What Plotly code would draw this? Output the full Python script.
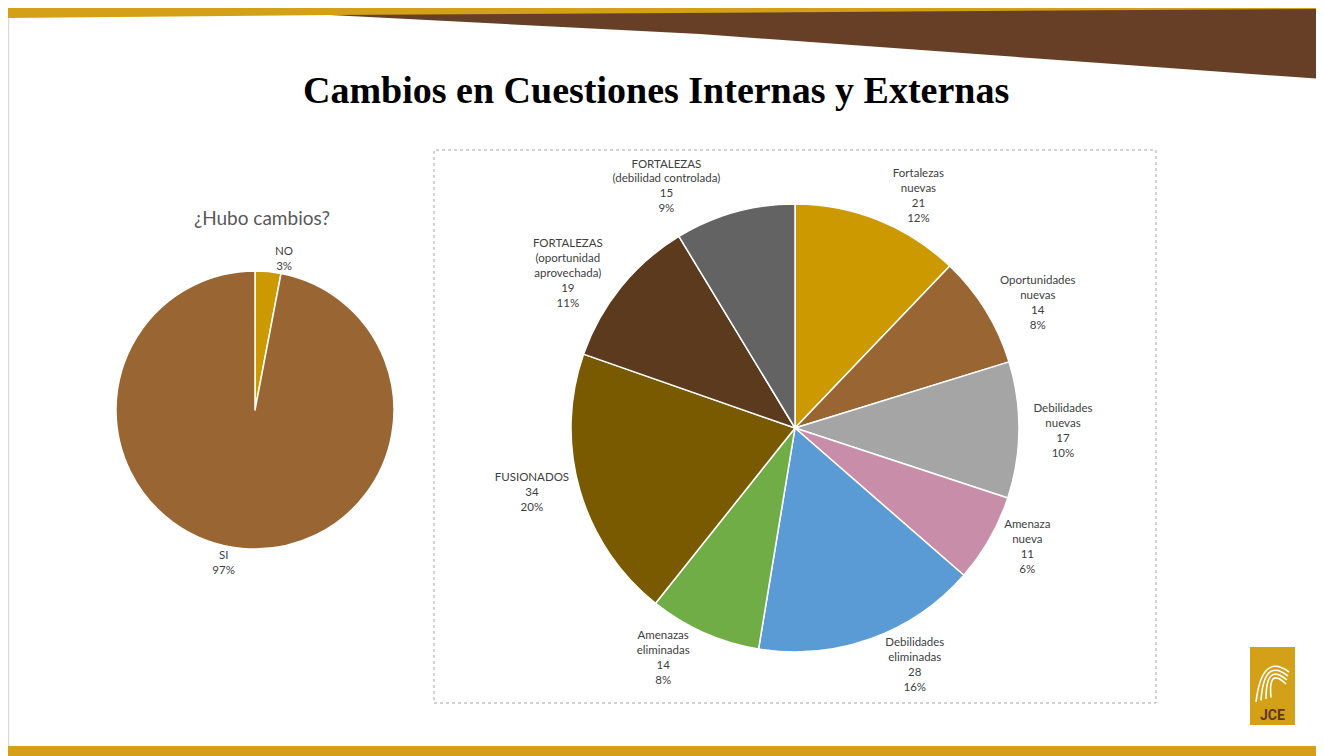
import plotly.graph_objects as go

# left pie: "¿Hubo cambios?"
cambios_labels = ["NO", "SI"]
cambios_pct = [3, 97]
cambios_colors = ["#CC9900", "#996633"]

# right pie: cambios por tipo
tipo_labels = [
    "Fortalezas<br>nuevas",
    "Oportunidades<br>nuevas",
    "Debilidades<br>nuevas",
    "Amenaza<br>nueva",
    "Debilidades<br>eliminadas",
    "Amenazas<br>eliminadas",
    "FUSIONADOS",
    "FORTALEZAS<br>(oportunidad<br>aprovechada)",
    "FORTALEZAS<br>(debilidad controlada)",
]
tipo_values = [21, 14, 17, 11, 28, 14, 34, 19, 15]
tipo_colors = [
    "#CC9900", "#996633", "#A5A5A5", "#C78DA9", "#5B9BD5",
    "#70AD47", "#7A5A00", "#5C3A1E", "#636363",
]

# the page body keeps its default 8px margin, so the figure is drawn
# 8px smaller and every screen position is shifted by that offset
OFF = 8
W, H = 1324 - OFF, 756 - OFF
label_font = dict(family="Lato, 'Open Sans', sans-serif", size=11.5, color="#404040")


def px_x(x):
    return (x - OFF) / W


def px_y(y):
    return 1 - (y - OFF) / H


fig = go.Figure()

fig.add_trace(
    go.Pie(
        labels=cambios_labels,
        values=cambios_pct,
        sort=False,
        direction="clockwise",
        rotation=0,
        marker=dict(colors=cambios_colors, line=dict(color="white", width=1.5)),
        textposition="outside",
        texttemplate="%{label}<br>%{percent:.0%}",
        textfont=label_font,
        showlegend=False,
        hoverinfo="label+percent",
        domain=dict(x=[px_x(116), px_x(394)], y=[px_y(549), px_y(271)]),
    )
)

fig.add_trace(
    go.Pie(
        labels=tipo_labels,
        values=tipo_values,
        sort=False,
        direction="clockwise",
        rotation=0,
        marker=dict(colors=tipo_colors, line=dict(color="white", width=1.5)),
        textposition="outside",
        texttemplate="%{label}<br>%{value}<br>%{percent:.0%}",
        textfont=label_font,
        showlegend=False,
        hoverinfo="label+value+percent",
        domain=dict(x=[px_x(571), px_x(1019)], y=[px_y(652), px_y(204)]),
    )
)


def path(points):
    pts = [f"{px_x(x)} {px_y(y)}" for x, y in points]
    return "M " + " L ".join(pts) + " Z"


def curve(x0, y0, cx, cy, x1, y1):
    return f"M {px_x(x0)} {px_y(y0)} Q {px_x(cx)} {px_y(cy)} {px_x(x1)} {px_y(y1)}"


shapes = [
    # slide left edge
    dict(type="line", x0=px_x(8.5), x1=px_x(8.5), y0=px_y(18), y1=px_y(746),
         line=dict(color="#D9D9D9", width=1.5)),
    # brown wedge
    dict(type="path",
         path=path([(330, 8), (1322, 8), (1322, 79), (1100, 63), (700, 34), (330, 15)]),
         fillcolor="#673F27", line=dict(width=0)),
    # top gold band
    dict(type="path",
         path=path([(0, 8), (1322, 8), (1322, 9), (330, 15), (0, 18)]),
         fillcolor="#D4A017", line=dict(width=0)),
    # bottom gold bar
    dict(type="rect", x0=px_x(8), x1=1, y0=0, y1=px_y(746),
         fillcolor="#D4A017", line=dict(width=0)),
    # dotted frame around the right chart
    dict(type="rect", x0=px_x(434), x1=px_x(1156), y0=px_y(703), y1=px_y(150),
         line=dict(color="#A6A6A6", width=1, dash="dot")),
    # logo block
    dict(type="rect", x0=px_x(1250), x1=px_x(1295), y0=px_y(725), y1=px_y(647),
         fillcolor="#D4A017", line=dict(width=0)),
]

# fingerprint strokes of the logo
for k in range(4):
    d = 5 * k
    shapes.append(
        dict(type="path",
             path=curve(1256 + d, 702 - d * 0.3, 1262 + d * 0.4, 652 + d, 1289 - d * 0.2, 672 + d * 0.8),
             line=dict(color="white", width=1.6))
    )

annotations = [
    dict(text="<b>Cambios en Cuestiones Internas y Externas</b>",
         x=px_x(656), y=px_y(90), xref="paper", yref="paper", showarrow=False,
         xanchor="center", yanchor="middle",
         font=dict(family="Liberation Serif, 'Times New Roman', serif", size=38, color="black")),
    dict(text="¿Hubo cambios?", x=px_x(262), y=px_y(217), xref="paper", yref="paper",
         showarrow=False, xanchor="center", yanchor="middle",
         font=dict(family="Lato, 'Open Sans', sans-serif", size=19, color="#595959")),
    dict(text="<b>JCE</b>", x=px_x(1272), y=px_y(715), xref="paper", yref="paper",
         showarrow=False, xanchor="center", yanchor="middle",
         font=dict(family="Roboto, sans-serif", size=14, color="#5C3A1E")),
]

fig.update_layout(
    width=W,
    height=H,
    margin=dict(l=0, r=0, t=0, b=0),
    paper_bgcolor="white",
    plot_bgcolor="white",
    shapes=shapes,
    annotations=annotations,
)

fig.write_html("out.html")
